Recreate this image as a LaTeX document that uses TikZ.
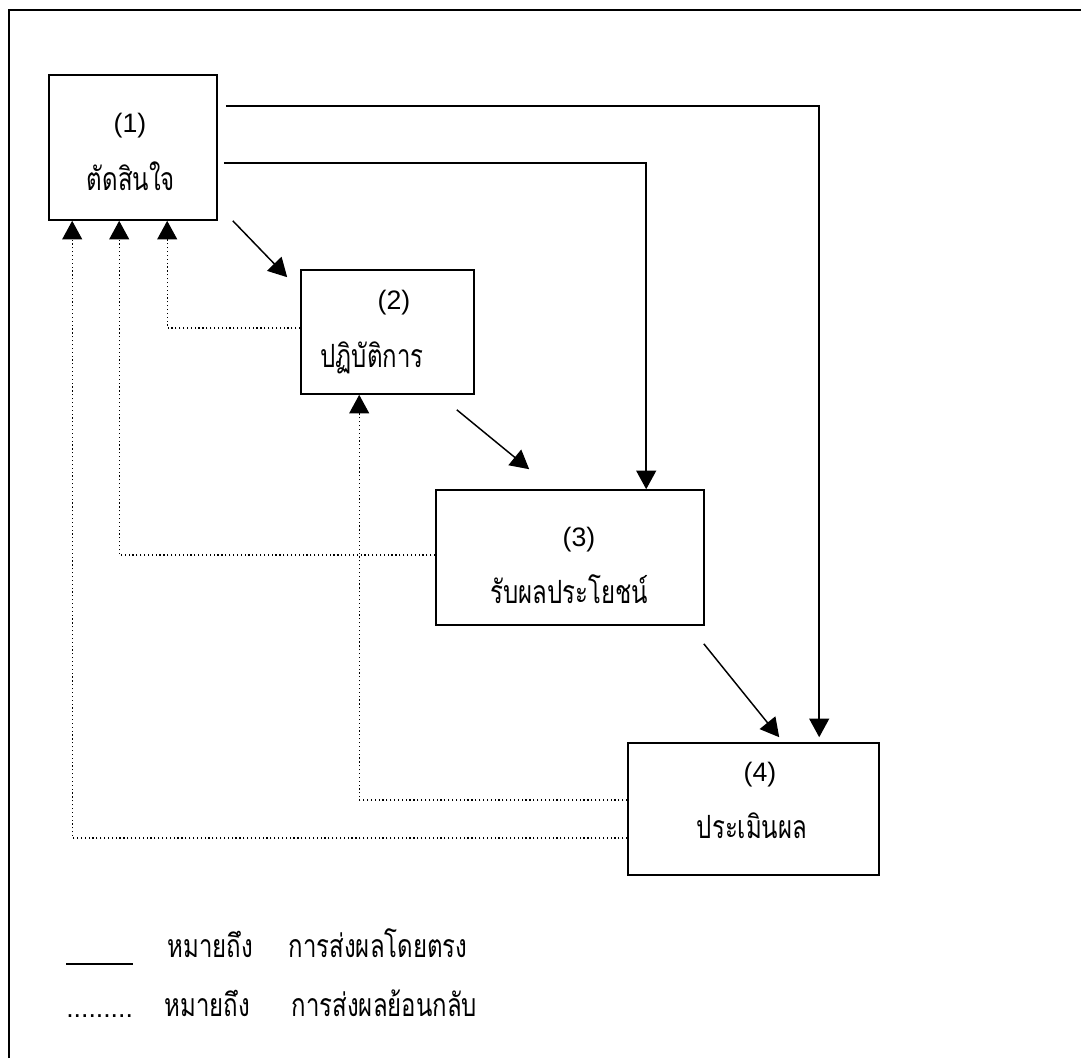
\documentclass[tikz,border=0pt]{standalone}
\usepackage{fontspec}
\setmainfont{Liberation Sans}
\newfontfamily\thaifont[Script=Thai,FakeStretch=0.75]{Loma}
\usetikzlibrary{calc,positioning,arrows.meta}
\tikzset{
    stagebox/.style={ % empty frame, the texts are set apart
        draw,
        rectangle,
        line width=1.2pt,
        inner sep=0pt
    },
    direct/.style={
        line width=1.1pt,
        -{Triangle[length=14pt,width=15pt]}
    },
    feedback/.style={
        line width=0.9pt,
        dotted,
        -{Triangle[length=14pt,width=15pt]}
    },
    numtext/.style={anchor=base,font=\fontsize{20pt}{24pt}\selectfont},
    thtext/.style={anchor=base,font=\fontsize{24pt}{28pt}\selectfont\thaifont}
}

\begin{document}
\begin{tikzpicture}[x=0.75pt,y=-0.75pt]
        \def\u{0.75pt}
        \useasboundingbox (0,0) rectangle (1081,1058);
        \draw[line width=1.2pt] (9,1058) -- (9,10) -- (1081,10);

        \node[stagebox,minimum width=168*\u,minimum height=145*\u] (B1) at (133,147.5) {};
        \node[stagebox,minimum width=173*\u,minimum height=124*\u] (B2) at (387.5,332) {};
        \node[stagebox,minimum width=268*\u,minimum height=135*\u] (B3) at (570,557.5) {};
        \node[stagebox,minimum width=251*\u,minimum height=132*\u] (B4) at (753.5,809) {};

        \node[numtext] (N1) at (130,132) {(1)};
        \node[thtext] (T1) at (131,190) {ตัดสินใจ};
        \node[numtext] (N2) at (394,309) {(2)};
        \node[thtext] (T2) at (372,367) {ปฏิบัติการ};
        \node[numtext] (N3) at (579,546) {(3)};
        \node[thtext] (T3) at (569,603) {รับผลประโยชน์};
        \node[numtext] (N4) at (760,781) {(4)};
        \node[thtext] (T4) at (752,838) {ประเมินผล};

        % direct effects
        \draw[direct] ($(B1.south east)+(15,0)$) -- ($(B2.north west)+(-13,8)$);
        \draw[direct] ($(B2.south east)+(-18,15)$) -- ($(B3.north west)+(94,-20)$);
        \draw[direct] ($(B3.south east)+(-1,18)$) -- ($(B4.north west)+(152,-5)$);
        \draw[direct] ($(B1.north east)+(6,89)$) -| ($(B3.north west)+(211,0)$);
        \draw[direct] ($(B1.north east)+(8,32)$) -| ($(B4.north west)+(192,-5)$);

        % feedback
        \draw[feedback] ($(B2.west)+(0,-4)$) -| ($(B1.south west)+(119,0)$);
        \draw[feedback] ($(B3.west)+(0,-2.5)$) -| ($(B1.south west)+(71,0)$);
        \draw[feedback] ($(B4.west)+(0,-9)$) -| ($(B2.south west)+(59,0)$);
        \draw[feedback] ($(B4.west)+(0,29)$) -| ($(B1.south west)+(24,0)$);

        % legend
        \coordinate (L1a) at (66,964);
        \coordinate (L1b) at (133,964);
        \draw[line width=1.1pt] (L1a) -- (L1b);
        \node[thtext,anchor=base west] (M1) at (163,957) {หมายถึง};
        \node[thtext,anchor=base west] (D1) at (284,957) {การส่งผลโดยตรง};
        \node[numtext,anchor=base west,inner sep=0pt] (L2) at (66,1017) {.........};
        \node[thtext,anchor=base west] (M2) at (160,1016) {หมายถึง};
        \node[thtext,anchor=base west] (D2) at (287,1016) {การส่งผลย้อนกลับ};
\end{tikzpicture}
\end{document}
